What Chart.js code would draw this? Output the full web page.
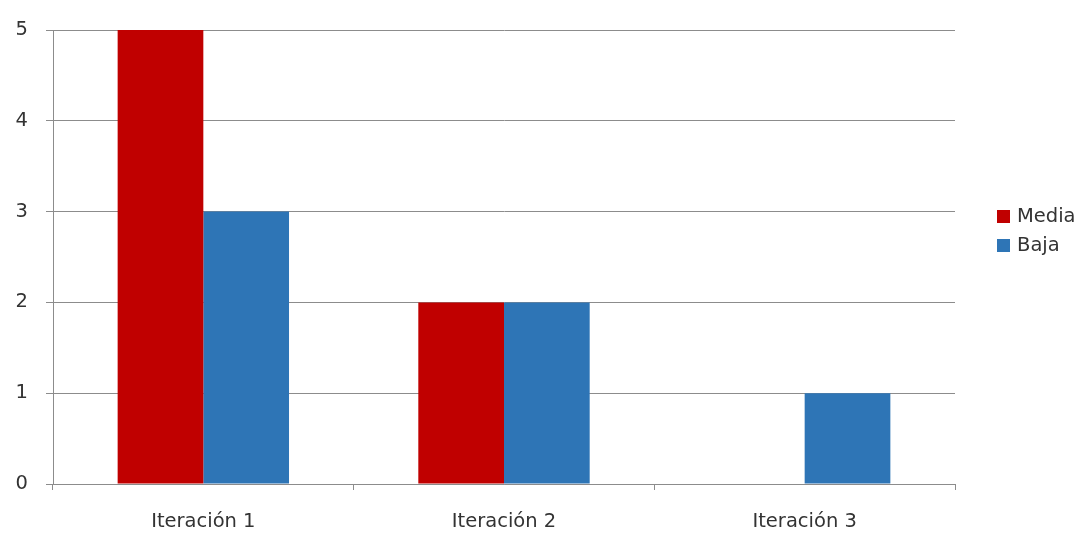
<!DOCTYPE html>
<html lang="es">
<head>
<meta charset="UTF-8">
<title>Iteraciones</title>
<script src="https://cdn.jsdelivr.net/npm/chart.js"></script>
<style>
  html, body { margin: 0; padding: 0; background: #ffffff; }
  #wrap { width: 1085px; height: 533px; position: relative; }
  #leyenda { position: absolute; left: 997px; top: 203px; font-family: 'DejaVu Sans', sans-serif; font-size: 19.5px; color: #333; }
  #leyenda div { height: 29px; line-height: 26px; white-space: nowrap; }
  #leyenda span.caja { display: inline-block; width: 13px; height: 13px; margin-right: 7px; vertical-align: -1px; }
</style>
</head>
<body>
<div id="wrap">
  <canvas id="grafico"></canvas>
  <div id="leyenda"></div>
</div>
<script>
// datos
const categorias = ['Iteración 1', 'Iteración 2', 'Iteración 3'];
const media = [5, 2, 0];
const baja = [3, 2, 1];
const yTicks = [0, 1, 2, 3, 4, 5];

const gris = '#8c8c8c';
const fuente = { family: 'DejaVu Sans', size: 19.5 };

const series = [
    { label: 'Media', data: media, backgroundColor: '#c00000', barPercentage: 1, categoryPercentage: 0.57 },
    { label: 'Baja', data: baja, backgroundColor: '#2e75b6', barPercentage: 1, categoryPercentage: 0.57 }
];

new Chart(document.getElementById('grafico'), {
    type: 'bar',
    data: { labels: categorias, datasets: series },
    options: {
        responsive: true,
        maintainAspectRatio: false,
        animation: false,
        layout: { padding: { left: 0, top: 30, right: 130, bottom: 0 } },
        plugins: {
            tooltip: { enabled: false },
            legend: { display: false }
        },
        scales: {
            x: {
                grid: { display: true, offset: true, drawOnChartArea: false, color: gris, tickLength: 6 },
                border: { color: gris },
                ticks: { color: '#333', font: fuente, padding: 20 },
                afterFit: (s) => { s.height = 49; }
            },
            y: {
                min: 0, max: 5,
                afterBuildTicks: (ax) => { ax.ticks = yTicks.map(v => ({ value: v })); },
                grid: { color: gris, tickLength: 7 },
                border: { color: gris },
                ticks: { color: '#333', font: fuente, padding: 18 },
                afterFit: (s) => { s.width = 53; }
            }
        }
    }
});

// leyenda a la derecha
const ley = document.getElementById('leyenda');
series.forEach(s => {
    const fila = document.createElement('div');
    const caja = document.createElement('span');
    caja.className = 'caja';
    caja.style.background = s.backgroundColor;
    fila.appendChild(caja);
    fila.appendChild(document.createTextNode(s.label));
    ley.appendChild(fila);
});
</script>
</body>
</html>
